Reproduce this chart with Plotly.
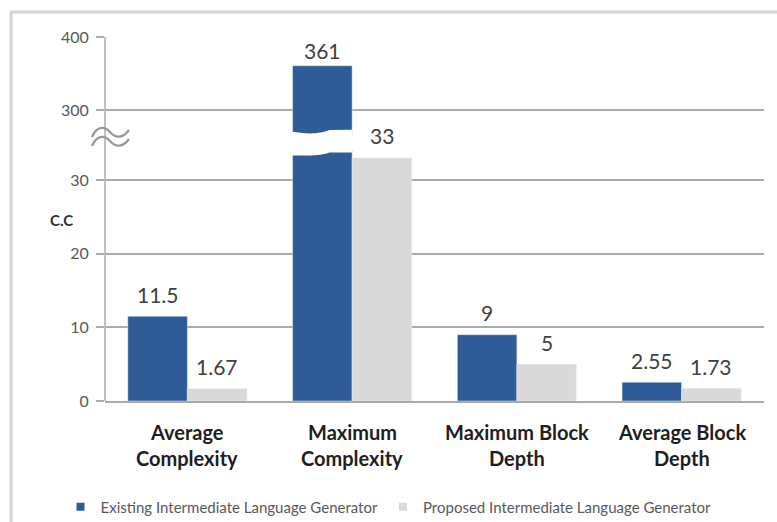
import plotly.graph_objects as go

# ---- data ----
categories = ["Average<br>Complexity", "Maximum<br>Complexity",
              "Maximum Block<br>Depth", "Average Block<br>Depth"]
series_names = ["Existing Intermediate Language Generator",
                "Proposed Intermediate Language Generator"]
existing = [11.5, 361, 9, 2.55]
proposed = [1.67, 33, 5, 1.73]
existing_labels = ["11.5", "361", "9", "2.55"]
proposed_labels = ["1.67", "33", "5", "1.73"]
lower_ticks = [0, 10, 20, 30]
upper_ticks = [300, 400]

# ---- styling / geometry ----
BLUE = "#2F5C97"
GREY = "#D9D9D9"
GRID = "#ABABAB"
TICK_TXT = "#595959"
FONT = "Lato"
W, H = 777, 522
L, R, T, B = 105, 764, 37, 401          # plot area in pixels
PW, PH = R - L, B - T
BARGAP = 0.277
BW = (1 - BARGAP) / 2                    # width of one bar in category units

LOWER_RANGE = [0, 34.08]
UPPER_RANGE = [265.8, 400.5]
LOWER_TOP_PX = 150
UPPER_BOTTOM_PX = 135


def px_x(px):
    return (px - L) / PW


def px_y(py):
    return (B - py) / PH


xs = list(range(len(categories)))

fig = go.Figure()

# bars in the lower (0-34) and upper (266-400) panels of the broken axis
for yax, xax in (("y", "x"), ("y2", "x2")):
    fig.add_trace(go.Bar(x=xs, y=existing, marker_color=BLUE, showlegend=False,
                         xaxis=xax, yaxis=yax, hoverinfo="skip"))
    fig.add_trace(go.Bar(x=xs, y=proposed, marker_color=GREY, showlegend=False,
                         xaxis=xax, yaxis=yax, hoverinfo="skip"))

# legend entries with small square swatches
for name, col in zip(series_names, (BLUE, GREY)):
    fig.add_trace(go.Scatter(x=[None], y=[None], mode="markers", name=name,
                             marker=dict(symbol="square", size=8, color=col)))

annotations = []
# value labels above each bar
for i in xs:
    for vals, labs, off in ((existing, existing_labels, -BW / 2),
                            (proposed, proposed_labels, BW / 2)):
        v = vals[i]
        in_upper = v > LOWER_RANGE[1]
        annotations.append(dict(
            x=i + off, y=v, xref="x", yref="y2" if in_upper else "y",
            text=labs[i], showarrow=False, yanchor="middle",
            yshift=15 if in_upper else 22,
            font=dict(family=FONT, size=21, color="#404040")))

# two-line category labels under the axis
for i, cat in enumerate(categories):
    for k, line in enumerate(cat.split("<br>")):
        annotations.append(dict(
            x=i, y=px_y(432 + 26 * k), xref="x", yref="paper", text=f"<b>{line}</b>",
            showarrow=False, yanchor="middle",
            font=dict(family=FONT, size=20, color="#1E1E1E")))

# y-axis caption
annotations.append(dict(x=px_x(48), y=px_y(220), xref="paper", yref="paper",
                        text="<b>C.C</b>", showarrow=False,
                        font=dict(family=FONT, size=15, color="#303030")))

shapes = []
# outer frame (top and left edges)
shapes.append(dict(type="line", xref="paper", yref="paper",
                   x0=px_x(10), x1=px_x(777), y0=px_y(12), y1=px_y(12),
                   line=dict(color="#D4D4D4", width=3)))
shapes.append(dict(type="line", xref="paper", yref="paper",
                   x0=px_x(11), x1=px_x(11), y0=px_y(12), y1=px_y(522),
                   line=dict(color="#D4D4D4", width=3)))
# continuous vertical axis line through the break
shapes.append(dict(type="line", xref="paper", yref="paper",
                   x0=0, x1=0, y0=0, y1=1, line=dict(color=GRID, width=1.5)))


def wave_path(dy):
    pts = [(92, 137), (96, 127), (104, 125), (110, 132),
           (116, 139), (123, 138), (129, 130)]
    p = [(px_x(a), px_y(b + dy)) for a, b in pts]
    s = f"M {p[0][0]},{p[0][1]} C {p[1][0]},{p[1][1]} {p[2][0]},{p[2][1]} {p[3][0]},{p[3][1]}"
    s += f" C {p[4][0]},{p[4][1]} {p[5][0]},{p[5][1]} {p[6][0]},{p[6][1]}"
    return s


# break marks on the axis
for dy in (0, 9):
    shapes.append(dict(type="path", xref="paper", yref="paper", path=wave_path(dy),
                       line=dict(color="#999999", width=2.2)))

# wavy white cut through the tall bar at the axis break
brk = existing.index(max(existing))
bl = brk - BW
xl, xr = bl - 0.03, brk
xa, xb, xc = bl + 0.3 * BW, bl + 0.45 * BW, bl + 0.62 * BW
cut = (f"M {xl},{px_y(131)} C {xa},{px_y(135)} {xb},{px_y(133.5)} {xc},{px_y(130)} "
       f"L {xr},{px_y(129.8)} L {xr},{px_y(152.5)} L {xc},{px_y(152.5)} "
       f"C {xb},{px_y(156)} {xa},{px_y(155.5)} {xl},{px_y(155.5)} Z")
shapes.append(dict(type="path", xref="x", yref="paper", path=cut,
                   fillcolor="white", line=dict(width=0), layer="above"))

axis_common = dict(showgrid=True, gridcolor=GRID, gridwidth=1.5, zeroline=False,
                   ticks="outside", ticklen=8, tickcolor=GRID, tickwidth=1.5,
                   ticklabelstandoff=4,
                   tickfont=dict(family=FONT, size=16, color=TICK_TXT), showline=False)

fig.update_layout(
    width=W, height=H,
    margin=dict(l=L, r=W - R, t=T, b=H - B),
    paper_bgcolor="white", plot_bgcolor="white",
    barmode="group", bargap=BARGAP, bargroupgap=0,
    xaxis=dict(range=[-0.5, len(categories) - 0.5], domain=[0, 1], anchor="y",
               showticklabels=False, showgrid=False, zeroline=False, ticks="",
               showline=True, linecolor=GRID, linewidth=1.5),
    xaxis2=dict(range=[-0.5, len(categories) - 0.5], domain=[0, 1], anchor="y2",
                matches="x", visible=False),
    yaxis=dict(range=LOWER_RANGE, tickvals=lower_ticks,
               domain=[0, px_y(LOWER_TOP_PX)], **axis_common),
    yaxis2=dict(range=UPPER_RANGE, tickvals=upper_ticks,
                domain=[px_y(UPPER_BOTTOM_PX), 1], **axis_common),
    legend=dict(orientation="h", xref="container", yref="container",
                x=0.5, xanchor="center", y=(H - 507) / H, yanchor="middle",
                font=dict(family=FONT, size=15, color=TICK_TXT),
                itemwidth=30, traceorder="normal"),
    annotations=annotations, shapes=shapes,
    showlegend=True,
)

fig.write_html("out.html")
